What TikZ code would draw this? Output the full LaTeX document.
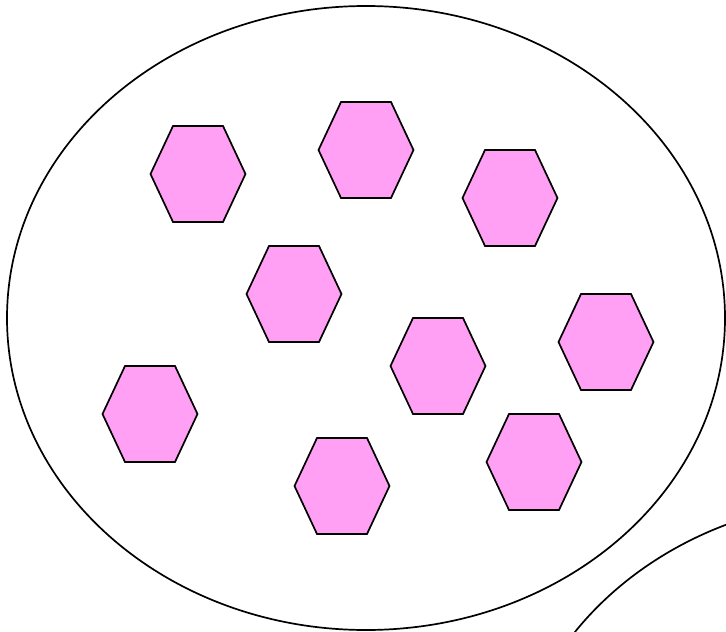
\documentclass[tikz,border=0pt]{standalone}
\begin{document}
\begin{tikzpicture}[x=1pt,y=-1pt,
  outline/.style={draw=black,line width=1.7pt},
  hexfill/.style={outline,fill={rgb,255:red,255;green,160;blue,245},line join=miter},
  hexa/.pic={\path[hexfill] (-47.5,0) -- (-25,-48) -- (25,-48) -- (47.5,0) -- (25,48) -- (-25,48) -- cycle;}]
\useasboundingbox (0,0) rectangle (726,632);
\clip (0,0) rectangle (726,632);
\draw[outline] (366,318) ellipse [x radius=359, y radius=312];
\draw[outline] (869,811) ellipse [x radius=359, y radius=312];
\foreach \n/\cx/\cy in {a/198/174, b/366/150, c/510/198, d/294/294, e/438/366, f/606/342, g/150/414, h/342/486, i/534/462}
  \pic (\n) at (\cx,\cy) {hexa};
\end{tikzpicture}
\end{document}
